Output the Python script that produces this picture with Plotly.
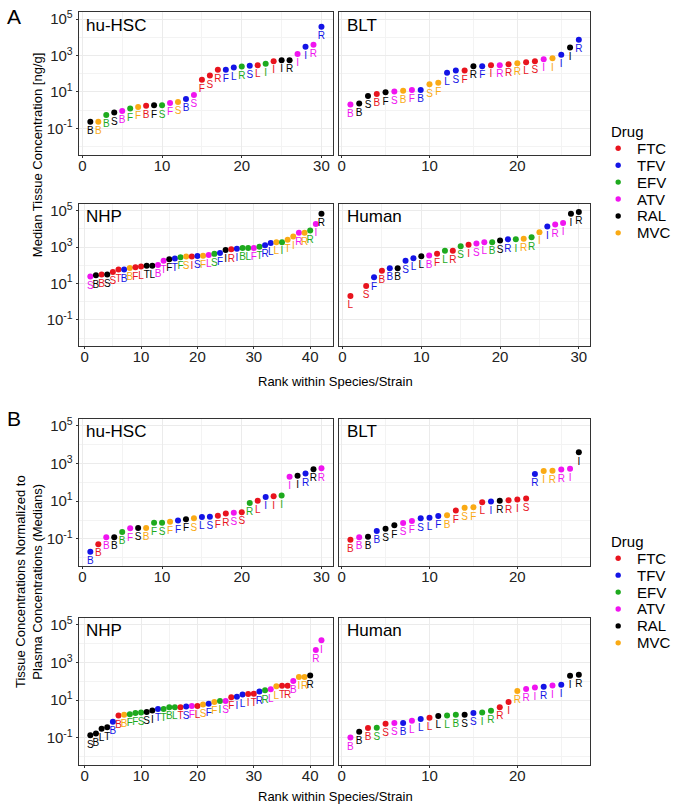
import plotly.graph_objects as go

drug_names = ["FTC", "TFV", "EFV", "ATV", "RAL", "MVC"]
drug_colors = ["#E8141E", "#1414E6", "#1EAA1E", "#F014F0", "#000000", "#FAAA14"]

# ---- A: median tissue concentration, log10 ng/g ----
a_hsc_drug = ("RAL MVC EFV RAL ATV EFV MVC FTC RAL EFV ATV MVC TFV ATV FTC "
              "FTC FTC TFV TFV EFV TFV FTC EFV FTC RAL RAL ATV TFV ATV TFV").split()
a_hsc_site = list("BBBSBFFBFSFSBSFSRFLRSLIIIRIIRR")
a_hsc_log10 = [-0.64, -0.64, -0.27, -0.13, -0.04, 0.09, 0.18, 0.24, 0.27, 0.27,
               0.40, 0.45, 0.62, 0.84, 1.67, 1.91, 2.22, 2.22, 2.35, 2.40,
               2.44, 2.47, 2.55, 2.69, 2.75, 2.75, 3.09, 3.49, 3.60, 4.58]

a_blt_drug = ("ATV RAL RAL FTC RAL ATV MVC ATV TFV MVC MVC TFV TFV FTC RAL "
              "TFV FTC ATV FTC MVC FTC FTC ATV MVC TFV RAL TFV").split()
a_blt_site = list("BBSBFSBFBSFLSFRFIRRRLSIIIIR")
a_blt_log10 = [0.31, 0.36, 0.78, 0.89, 0.98, 1.02, 1.07, 1.11, 1.11, 1.42,
               1.51, 2.05, 2.18, 2.18, 2.42, 2.42, 2.47, 2.47, 2.53, 2.58,
               2.64, 2.69, 2.80, 2.85, 3.05, 3.44, 3.87]

a_nhp_drug = ("ATV RAL FTC RAL FTC FTC TFV MVC FTC FTC RAL RAL ATV ATV RAL "
              "TFV EFV MVC FTC TFV MVC ATV EFV TFV RAL FTC TFV EFV EFV ATV "
              "EFV TFV TFV MVC EFV MVC MVC ATV MVC EFV ATV RAL").split()
a_nhp_site = list("SBBSSTBBFLTLBTFTFSISFLSFIRIBLFTRLLITIRRRIR")
a_nhp_log10 = [1.39, 1.45, 1.50, 1.50, 1.64, 1.77, 1.77, 1.86, 1.89, 1.93,
               1.98, 1.98, 2.02, 2.25, 2.34, 2.38, 2.45, 2.48, 2.48, 2.51,
               2.53, 2.57, 2.63, 2.68, 2.84, 2.88, 2.91, 2.95, 2.95, 2.95,
               3.02, 3.11, 3.23, 3.27, 3.27, 3.41, 3.59, 3.79, 3.79, 3.91,
               4.27, 4.84]

a_human_rank = [1] + list(range(3, 31))
a_human_drug = ("FTC FTC TFV FTC TFV RAL TFV TFV RAL ATV FTC EFV FTC EFV FTC "
                "ATV ATV EFV RAL TFV EFV MVC EFV MVC TFV ATV ATV RAL RAL").split()
a_human_site = list("LSFBBBSLLBFLRSISLBSRIRRIIRIIR")
a_human_log10 = [0.32, 0.86, 1.34, 1.70, 1.84, 1.84, 2.25, 2.39, 2.50, 2.54,
                 2.64, 2.80, 2.80, 3.05, 3.13, 3.20, 3.27, 3.27, 3.36, 3.43,
                 3.43, 3.46, 3.54, 3.82, 4.13, 4.25, 4.32, 4.84, 4.93]

# ---- B: tissue / plasma ratio of medians, log10 ----
b_hsc_drug = ("TFV FTC ATV RAL EFV ATV RAL MVC EFV EFV MVC TFV RAL MVC TFV "
              "TFV FTC FTC ATV FTC EFV FTC TFV FTC EFV ATV RAL TFV RAL ATV").split()
b_hsc_site = list("BBBBBFSBFSFFFSLSFRSSRLIIIIIRRR")
b_hsc_log10 = [-1.68, -1.28, -0.91, -0.91, -0.63, -0.44, -0.42, -0.42, -0.14, -0.14,
               -0.09, -0.02, 0.05, 0.09, 0.16, 0.18, 0.23, 0.35, 0.39, 0.42,
               0.91, 1.02, 1.23, 1.26, 1.30, 2.30, 2.35, 2.47, 2.70, 2.75]

b_blt_drug = ("FTC ATV RAL TFV RAL RAL ATV ATV TFV TFV TFV MVC FTC MVC MVC "
              "FTC TFV RAL FTC FTC FTC TFV MVC MVC ATV ATV RAL").split()
b_blt_site = list("BBBBSFSFSLFBFSFLIRRISRIRRII")
b_blt_log10 = [-1.04, -0.91, -0.88, -0.58, -0.46, -0.28, -0.16, -0.05, 0.09, 0.12,
               0.21, 0.25, 0.51, 0.65, 0.68, 0.95, 0.98, 1.02, 1.05, 1.09,
               1.14, 2.45, 2.60, 2.62, 2.68, 2.72, 3.60]

b_nhp_drug = ("RAL RAL RAL RAL TFV FTC MVC EFV EFV EFV RAL RAL TFV EFV EFV "
              "EFV FTC TFV ATV FTC MVC TFV MVC EFV ATV FTC TFV TFV FTC FTC "
              "TFV EFV ATV MVC FTC FTC ATV MVC MVC RAL ATV ATV").split()
b_nhp_site = list("SBLTBBBFFSSITTBLTSFLSFFISFILITRRLLTRBIRRRI")
b_nhp_log10 = [-0.86, -0.77, -0.51, -0.44, -0.14, 0.19, 0.23, 0.26, 0.32, 0.35,
               0.37, 0.46, 0.53, 0.54, 0.63, 0.63, 0.63, 0.67, 0.70, 0.70,
               0.77, 0.82, 0.91, 0.96, 0.96, 1.16, 1.19, 1.30, 1.33, 1.35,
               1.46, 1.53, 1.58, 1.74, 1.77, 1.77, 2.02, 2.23, 2.23, 2.32,
               3.67, 4.18]

b_human_drug = ("ATV RAL FTC EFV FTC ATV TFV ATV TFV FTC RAL EFV EFV RAL TFV "
                "EFV EFV FTC FTC MVC ATV ATV TFV ATV TFV RAL RAL").split()
b_human_site = list("BBBSSSBLLLLLBSSIRRIRRIRIIIR")
b_human_log10 = [-0.98, -0.67, -0.47, -0.46, -0.25, -0.21, -0.21, -0.09, 0.00, 0.07,
                 0.16, 0.19, 0.23, 0.23, 0.32, 0.35, 0.44, 0.63, 0.91, 1.49,
                 1.60, 1.68, 1.72, 1.78, 1.82, 2.30, 2.35]

panels = [
    ("hu-HSC", None, a_hsc_drug, a_hsc_site, a_hsc_log10),
    ("BLT", None, a_blt_drug, a_blt_site, a_blt_log10),
    ("NHP", None, a_nhp_drug, a_nhp_site, a_nhp_log10),
    ("Human", a_human_rank, a_human_drug, a_human_site, a_human_log10),
    ("hu-HSC", None, b_hsc_drug, b_hsc_site, b_hsc_log10),
    ("BLT", None, b_blt_drug, b_blt_site, b_blt_log10),
    ("NHP", None, b_nhp_drug, b_nhp_site, b_nhp_log10),
    ("Human", None, b_human_drug, b_human_site, b_human_log10),
]

W, H = 675, 809
col_px = [(77, 332), (338, 590)]
row_px = [(8.5, 151.5), (201, 344), (417, 565), (617, 765)]
color_of = dict(zip(drug_names, drug_colors))
font = "Arial, Liberation Sans, sans-serif"


def txt(text, x, y, size, **kw):
    d = dict(text=text, x=x / W, y=1 - y / H, xref="paper", yref="paper",
             xanchor="center", yanchor="middle", showarrow=False,
             font=dict(size=size, color="black", family=font))
    d.update(kw)
    return d


fig = go.Figure()
layout = dict(width=W, height=H, margin=dict(l=0, r=0, t=0, b=0),
              plot_bgcolor="white", paper_bgcolor="white", showlegend=False,
              annotations=[], shapes=[])

for i, (name, ranks, drugs, sites, vals) in enumerate(panels):
    k = i + 1
    sx = "" if k == 1 else str(k)
    row, col = divmod(i, 2)
    x0, x1 = col_px[col]
    ytop, ybot = row_px[row]
    if ranks is None:
        ranks = list(range(1, len(vals) + 1))
    cols = [color_of[d] for d in drugs]
    fig.add_trace(go.Scatter(
        x=ranks, y=[10 ** v for v in vals], mode="markers+text",
        text=sites, textposition="bottom center",
        textfont=dict(size=10, color=cols, family=font),
        marker=dict(size=6, color=cols), showlegend=False,
        xaxis="x" + sx, yaxis="y" + sx, hoverinfo="skip"))
    lo, hi = min(ranks), max(ranks)
    pad = 0.05 * (hi - lo)
    layout["xaxis" + sx] = dict(
        domain=[x0 / W, x1 / W], anchor="y" + sx, range=[lo - pad, hi + pad],
        tick0=0, dtick=10, showgrid=True, gridcolor="#EBEBEB", gridwidth=1,
        minor=dict(dtick=5, tick0=0, showgrid=True, gridcolor="#F3F3F3", gridwidth=0.6),
        showline=True, mirror=True, linecolor="#333333", linewidth=1.2,
        ticks="outside", ticklen=2, tickcolor="#333333", ticklabelstandoff=-5,
        tickfont=dict(size=15, color="#222222", family=font), zeroline=False)
    layout["yaxis" + sx] = dict(
        domain=[1 - ybot / H, 1 - ytop / H], anchor="x" + sx, type="log",
        range=[-2.45, 5.37],
        tickvals=[0.1, 10, 1000, 100000],
        ticktext=["10<sup>-1</sup>", "10<sup>1</sup>", "10<sup>3</sup>", "10<sup>5</sup>"],
        showticklabels=(col == 0),
        showgrid=True, gridcolor="#EBEBEB", gridwidth=1,
        minor=dict(tickvals=[0.01, 1, 100, 10000], showgrid=True,
                   gridcolor="#F3F3F3", gridwidth=0.6),
        showline=True, mirror=True, linecolor="#333333", linewidth=1.2,
        ticks="outside" if col == 0 else "", ticklen=2, tickcolor="#333333",
        tickfont=dict(size=15, color="#222222", family=font), zeroline=False)
    layout["annotations"].append(dict(
        text=name, xref="x%s domain" % sx, yref="y%s domain" % sx,
        x=0.022, y=1 - 13 / (ybot - ytop), xanchor="left", yanchor="middle",
        showarrow=False, font=dict(size=17, color="black", family=font)))

# hand-placed legends (one per half), ggplot style: title + dot keys
for title_y in [128, 540]:
    layout["annotations"].append(txt("Drug", 609, title_y, 15, xanchor="left"))
    for j, (dn, dc) in enumerate(zip(drug_names, drug_colors)):
        yy = title_y + 17 + 17 * j
        layout["shapes"].append(dict(
            type="circle", xref="paper", yref="paper",
            x0=(618 - 2.7) / W, x1=(618 + 2.7) / W,
            y0=1 - (yy + 2.7) / H, y1=1 - (yy - 2.7) / H,
            fillcolor=dc, line=dict(width=0)))
        layout["annotations"].append(txt(dn, 635, yy, 15, xanchor="left"))

layout["annotations"] += [
    txt("A", 3, 13, 21, xanchor="left"),
    txt("B", 3, 417, 21, xanchor="left"),
    txt("Median Tissue Concentration [ng/g]", 35, 151, 13, textangle=-90),
    txt("Tissue Concentrations Normalized to<br>Plasma Concentrations (Medians)",
        27, 580, 13, textangle=-90),
    txt("Rank within Species/Strain", 334, 379, 13),
    txt("Rank within Species/Strain", 334, 796, 13),
]

fig.update_layout(**layout)
fig.write_html("out.html", config={"displayModeBar": False},
               post_script="document.body.style.margin='0px';")
